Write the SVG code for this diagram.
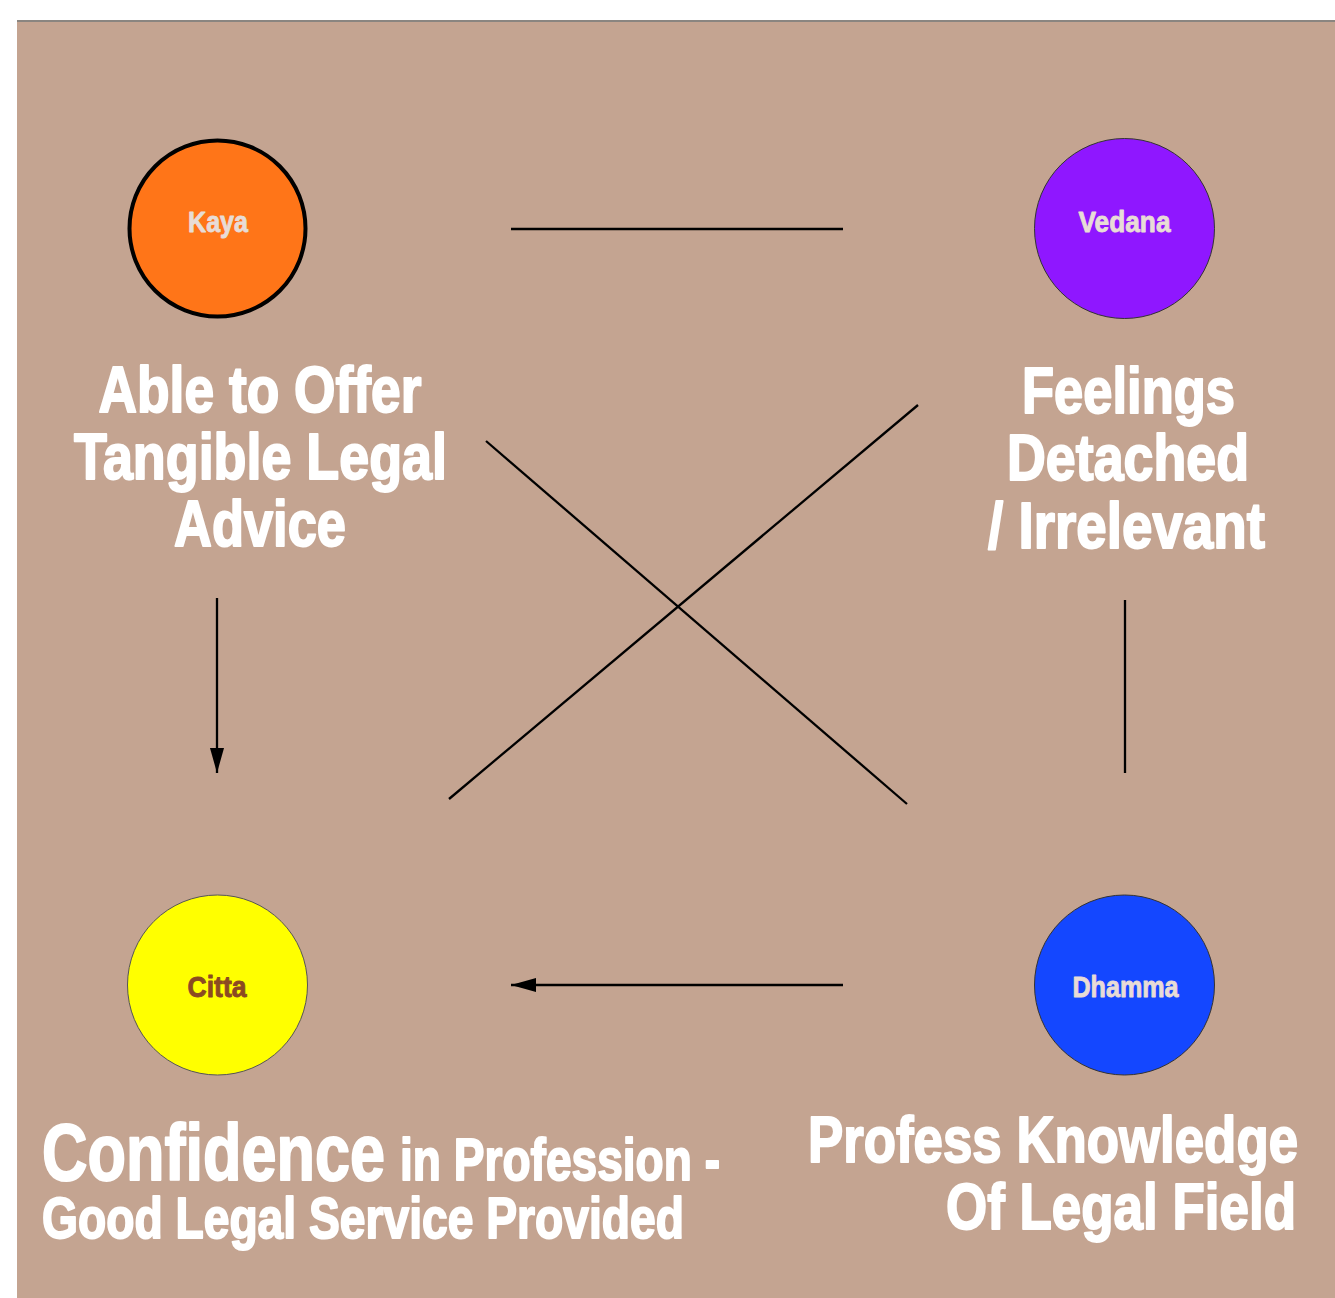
<svg xmlns="http://www.w3.org/2000/svg" width="1335" height="1298" viewBox="0 0 1335 1298">
<defs>
<style>
.lbl{font-family:"Liberation Sans Narrow","Liberation Sans",Arial,sans-serif;font-weight:bold;}
.big{fill:#ffffff;stroke:#ffffff;stroke-width:2;stroke-linejoin:round;}
.node-text{font-size:30px;text-anchor:middle;stroke-width:0.9;stroke-linejoin:round;}
.conn{stroke:#000000;stroke-width:2.3;fill:none;}
</style>
<marker id="arrow" markerUnits="userSpaceOnUse" markerWidth="26" markerHeight="16" refX="25" refY="7" orient="auto">
<path d="M0,0 L25,7 L0,14 Z" fill="#000000"/>
</marker>
</defs>
<rect x="0" y="0" width="1335" height="1298" fill="#ffffff"/>
<rect x="17" y="21" width="1320" height="1280" fill="#C4A491"/>
<line x1="17" y1="21" x2="1335" y2="21" stroke="#8a8580" stroke-width="2"/>

<g id="connectors">
<line class="conn" x1="511" y1="229" x2="843" y2="229"/>
<line class="conn" x1="486" y1="441" x2="907" y2="804"/>
<line class="conn" x1="918" y1="405" x2="449" y2="799"/>
<line class="conn" x1="217" y1="598" x2="217" y2="773" marker-end="url(#arrow)"/>
<line class="conn" x1="1125" y1="600" x2="1125" y2="773"/>
<line class="conn" x1="843" y1="985" x2="511" y2="985" marker-end="url(#arrow)"/>
</g>

<g id="kaya">
<circle cx="217.5" cy="228.5" r="88" fill="#FF7518" stroke="#000000" stroke-width="4"/>
<text class="lbl node-text" x="218" y="232" fill="#E8DCD6" stroke="#E8DCD6" textLength="60" lengthAdjust="spacingAndGlyphs">Kaya</text>
</g>
<g id="vedana">
<circle cx="1124.5" cy="228.5" r="90" fill="#8F17FF" stroke="#333333" stroke-width="1"/>
<text class="lbl node-text" x="1124.5" y="232" fill="#E8DCD6" stroke="#E8DCD6" textLength="92" lengthAdjust="spacingAndGlyphs">Vedana</text>
</g>
<g id="citta">
<circle cx="217.5" cy="985" r="90" fill="#FFFF00" stroke="#555555" stroke-width="1"/>
<text class="lbl node-text" x="217" y="997" fill="#8B4A22" stroke="#8B4A22" textLength="59" lengthAdjust="spacingAndGlyphs">Citta</text>
</g>
<g id="dhamma">
<circle cx="1124.5" cy="985" r="90" fill="#1447FF" stroke="#333333" stroke-width="1"/>
<text class="lbl node-text" x="1125.5" y="997" fill="#E8DCD6" stroke="#E8DCD6" textLength="106" lengthAdjust="spacingAndGlyphs">Dhamma</text>
</g>

<g id="kaya-desc" class="lbl big" font-size="64" text-anchor="middle">
<text x="260" y="412" textLength="323" lengthAdjust="spacingAndGlyphs">Able to Offer</text>
<text x="260.5" y="479" textLength="373" lengthAdjust="spacingAndGlyphs">Tangible Legal</text>
<text x="260" y="546" textLength="172" lengthAdjust="spacingAndGlyphs">Advice</text>
</g>
<g id="vedana-desc" class="lbl big" font-size="64" text-anchor="middle">
<text x="1128.5" y="413" textLength="213" lengthAdjust="spacingAndGlyphs">Feelings</text>
<text x="1128" y="480" textLength="242" lengthAdjust="spacingAndGlyphs">Detached</text>
<text x="1126.5" y="548" textLength="277" lengthAdjust="spacingAndGlyphs">/ Irrelevant</text>
</g>
<g id="citta-desc" class="lbl big">
<text x="42" y="1180" font-size="80" textLength="343" lengthAdjust="spacingAndGlyphs">Confidence</text>
<text x="400" y="1180" font-size="60" textLength="320" lengthAdjust="spacingAndGlyphs">in Profession -</text>
<text x="42" y="1238" font-size="58" textLength="642" lengthAdjust="spacingAndGlyphs">Good Legal Service Provided</text>
</g>
<g id="dhamma-desc" class="lbl big" font-size="65">
<text x="808" y="1162" textLength="490" lengthAdjust="spacingAndGlyphs">Profess Knowledge</text>
<text x="946" y="1229" textLength="350" lengthAdjust="spacingAndGlyphs">Of Legal Field</text>
</g>
</svg>
